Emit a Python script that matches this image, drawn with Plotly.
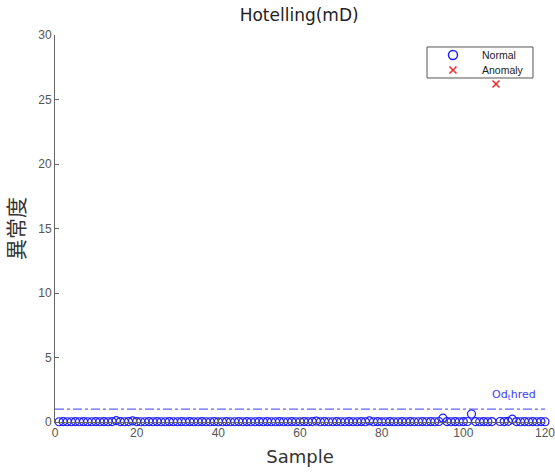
import plotly.graph_objects as go

# ---- data ----
normal_samples = [s for s in range(1, 121) if s != 108]
normal_values = [
    0.02, 0.03, 0.02, 0.02, 0.03, 0.02, 0.03, 0.02, 0.02, 0.03,
    0.02, 0.03, 0.02, 0.03, 0.10, 0.03, 0.02, 0.03, 0.08, 0.03,
    0.02, 0.02, 0.03, 0.02, 0.03, 0.02, 0.02, 0.03, 0.02, 0.02,
    0.03, 0.02, 0.03, 0.02, 0.02, 0.03, 0.02, 0.02, 0.03, 0.02,
    0.02, 0.03, 0.02, 0.02, 0.03, 0.02, 0.03, 0.02, 0.02, 0.03,
    0.02, 0.03, 0.02, 0.02, 0.03, 0.02, 0.02, 0.03, 0.02, 0.02,
    0.03, 0.02, 0.03, 0.07, 0.02, 0.03, 0.02, 0.02, 0.03, 0.02,
    0.02, 0.03, 0.02, 0.02, 0.03, 0.02, 0.08, 0.02, 0.03, 0.02,
    0.02, 0.03, 0.02, 0.02, 0.03, 0.02, 0.03, 0.02, 0.02, 0.03,
    0.02, 0.03, 0.02, 0.04, 0.30, 0.03, 0.02, 0.03, 0.02, 0.03,
    0.04, 0.62, 0.03, 0.02, 0.03, 0.02, 0.03, 0.04, 0.03, 0.05,
    0.22, 0.03, 0.02, 0.03, 0.02, 0.03, 0.02, 0.03, 0.02,
]
anomaly_samples = [108]
anomaly_values = [26.2]
threshold = 1.0
x_ticks = [0, 20, 40, 60, 80, 100, 120]
y_ticks = [0, 5, 10, 15, 20, 25, 30]
legend_labels = ["Normal", "Anomaly"]

BLUE = "rgb(30,30,255)"
RED = "rgb(240,40,40)"

fig = go.Figure()

fig.add_trace(go.Scatter(
    x=[0, 120], y=[threshold, threshold], mode="lines",
    line=dict(color="rgb(60,60,255)", width=1, dash="dashdot"),
    showlegend=False, hoverinfo="skip"))

fig.add_trace(go.Scatter(
    x=normal_samples, y=normal_values, mode="markers", name="Normal",
    marker=dict(symbol="circle-open", size=8, color=BLUE,
                line=dict(width=1.2, color=BLUE)),
    cliponaxis=False, showlegend=False))

fig.add_trace(go.Scatter(
    x=anomaly_samples, y=anomaly_values, mode="markers", name="Anomaly",
    marker=dict(symbol="x-thin-open", size=7, color=RED,
                line=dict(width=1.5, color=RED)),
    cliponaxis=False, showlegend=False))

# ---- compact legend (MATLAB-style box) ----
LEG_X0, LEG_X1, LEG_Y0, LEG_Y1 = 0.7592, 0.9755, 0.8889, 0.969
SYM_X, TXT_X = 0.8122, 0.8673
ROW_Y = [0.9483, 0.9096]

fig.add_shape(type="rect", xref="paper", yref="paper",
              x0=LEG_X0, x1=LEG_X1, y0=LEG_Y0, y1=LEG_Y1,
              line=dict(color="#555", width=1), fillcolor="white",
              layer="below")
fig.add_trace(go.Scatter(
    x=[SYM_X], y=[ROW_Y[0]], xaxis="x2", yaxis="y2", mode="markers",
    marker=dict(symbol="circle-open", size=9, color=BLUE,
                line=dict(width=1.5, color=BLUE)),
    showlegend=False, hoverinfo="skip", cliponaxis=False))
fig.add_trace(go.Scatter(
    x=[SYM_X], y=[ROW_Y[1]], xaxis="x2", yaxis="y2", mode="markers",
    marker=dict(symbol="x-thin-open", size=7, color=RED,
                line=dict(width=1.5, color=RED)),
    showlegend=False, hoverinfo="skip", cliponaxis=False))
for lab, yy in zip(legend_labels, ROW_Y):
    fig.add_annotation(x=TXT_X, y=yy, xref="paper", yref="paper", text=lab,
                       showarrow=False, xanchor="left", yanchor="middle",
                       font=dict(family="Liberation Sans, Arial", size=10.5,
                                 color="#222"))

fig.add_annotation(
    x=112.4, y=2.1, xref="x", yref="y", text="Od<sub>t</sub>hred",
    showarrow=False, yanchor="middle",
    font=dict(family="DejaVu Sans", size=11, color="rgb(60,60,255)"))

fig.update_layout(
    width=555, height=474,
    margin=dict(l=55, r=10, t=35, b=52),
    paper_bgcolor="white", plot_bgcolor="white",
    font=dict(family="Liberation Sans, Arial, Noto Sans CJK JP", color="#444"),
    title=dict(text="Hotelling(mD)", xref="container", x=0.539,
               xanchor="center", yref="container", y=0.969,
               yanchor="middle",
               font=dict(family="DejaVu Sans", size=17, color="#222")),
    showlegend=False,
    xaxis=dict(range=[0, 120], tickvals=x_ticks, showgrid=False,
               zeroline=False, showline=True, linecolor="#666", linewidth=1,
               ticks="inside", ticklen=4, tickcolor="#666", automargin=False,
               ticklabeloverflow="allow",
               tickfont=dict(size=12, color="#555"),
               title=dict(text="Sample",
                          font=dict(family="DejaVu Sans", size=18,
                                    color="#333"),
                          standoff=10)),
    yaxis=dict(range=[0, 30], tickvals=y_ticks, showgrid=False,
               zeroline=False, showline=True, linecolor="#666", linewidth=1,
               ticks="inside", ticklen=4, tickcolor="#666", automargin=False,
               ticklabeloverflow="allow",
               tickfont=dict(size=12, color="#555"),
               title=dict(text="異常度", font=dict(size=21, color="#333",
                          family="Noto Sans CJK JP"), standoff=19)),
    xaxis2=dict(overlaying="x", range=[0, 1], visible=False, fixedrange=True),
    yaxis2=dict(overlaying="y", range=[0, 1], visible=False, fixedrange=True),
)

fig.write_html(
    "out.html",
    config={"displayModeBar": False},
    post_script="document.body.style.margin='0';"
                "document.body.style.overflow='hidden';")
